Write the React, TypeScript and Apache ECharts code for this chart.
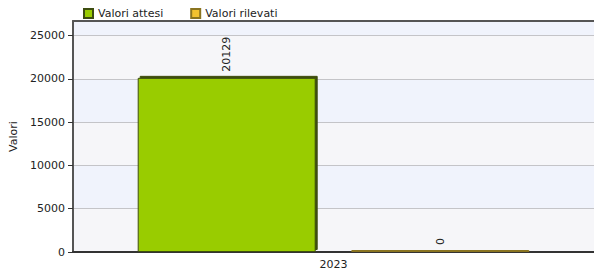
import React, { useEffect, useRef } from "react";
import * as echarts from "echarts";

const categories = ["2023"];
const seriesNames = ["Valori attesi", "Valori rilevati"];
const expectedValues = [20129];
const measuredValues = [0];
const yTicks = [0, 5000, 10000, 15000, 20000, 25000];

const FONT = "DejaVu Sans";

export default function App() {
  const ref = useRef<HTMLDivElement>(null);
  useEffect(() => {
    if (!ref.current) return;
    const chart = echarts.init(ref.current, undefined, { renderer: "svg" });
    chart.setOption({
      animation: false,
      backgroundColor: "#ffffff",
      textStyle: { fontFamily: FONT },
      legend: {
        left: 78,
        top: 3,
        itemWidth: 9,
        itemHeight: 9,
        itemGap: 27,
        icon: "rect",
        itemStyle: { shadowColor: "rgba(0,0,0,0)", shadowOffsetX: 0, shadowOffsetY: 0, shadowBlur: 0 },
        textStyle: { fontFamily: FONT, fontSize: 11, color: "#222" },
        data: seriesNames,
      },
      grid: { left: 73, right: 0, top: 21, bottom: 26 },
      xAxis: [
        {
          type: "category",
          data: categories,
          axisLine: { lineStyle: { color: "#333", width: 2 } },
          axisTick: { alignWithLabel: true, length: 5, lineStyle: { color: "#333" } },
          axisLabel: { fontFamily: FONT, fontSize: 11, color: "#222", margin: 7 },
        },
        {
          type: "category",
          position: "top",
          data: categories,
          axisLine: { lineStyle: { color: "#555", width: 2 } },
          axisTick: { show: false },
          axisLabel: { show: false },
        },
      ],
      yAxis: {
        type: "value",
        min: 0,
        max: 26700,
        interval: 5000,
        name: "Valori",
        nameLocation: "middle",
        nameGap: 42,
        nameTextStyle: { fontFamily: FONT, fontSize: 11, color: "#222" },
        axisLine: { show: true, lineStyle: { color: "#555", width: 2 } },
        axisTick: { show: true, length: 5, lineStyle: { color: "#333" } },
        axisLabel: {
          fontFamily: FONT,
          fontSize: 11,
          color: "#222",
          margin: 8,
          showMaxLabel: false,
          formatter: (v: number) => (yTicks.includes(v) ? String(v) : ""),
        },
        splitLine: { show: true, lineStyle: { color: "#c4c4c8", width: 1 } },
        splitArea: { show: true, areaStyle: { color: ["#f6f6f9", "#f0f3fc"] } },
      },
      series: [
        {
          name: seriesNames[0],
          type: "bar",
          data: expectedValues,
          barWidth: 178,
          barGap: "20%",
          itemStyle: {
            color: "#99cc00",
            borderColor: "#3d4d10",
            borderWidth: 1,
            shadowColor: "#3d4d10",
            shadowOffsetX: 2,
            shadowOffsetY: -2,
            shadowBlur: 0,
          },
          label: {
            show: true,
            position: "top",
            rotate: 90,
            align: "left",
            verticalAlign: "middle",
            distance: 6,
            fontFamily: FONT,
            fontSize: 11,
            color: "#222",
          },
        },
        {
          name: seriesNames[1],
          type: "bar",
          data: measuredValues,
          barWidth: 178,
          barMinHeight: 2,
          itemStyle: { color: "#f2c230", borderColor: "#8a7420", borderWidth: 1 },
          label: {
            show: true,
            position: "top",
            rotate: 90,
            align: "left",
            verticalAlign: "middle",
            distance: 5,
            fontFamily: FONT,
            fontSize: 11,
            color: "#222",
          },
        },
      ],
    });
    return () => chart.dispose();
  }, []);
  return <div ref={ref} style={{ width: 594, height: 278, position: "absolute", left: 0, top: 0 }} />;
}
